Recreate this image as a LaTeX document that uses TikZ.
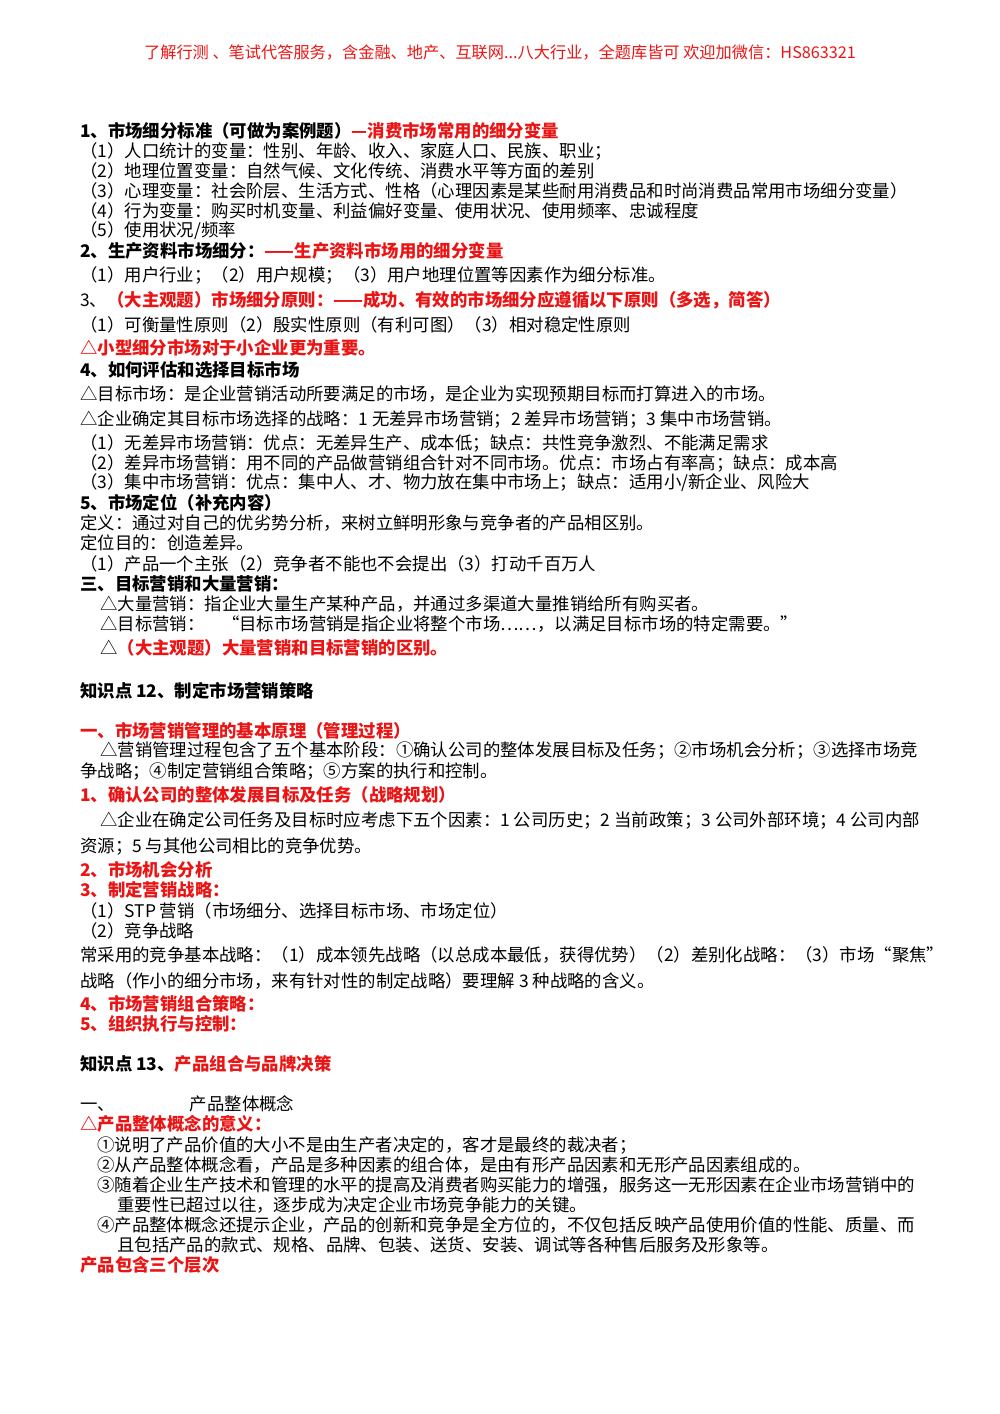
\documentclass[tikz,border=0pt]{standalone}
\usepackage{fontspec}
\setmainfont{Noto Sans CJK SC}
\definecolor{rd}{RGB}{235,20,20}
\newcommand{\R}[1]{\textcolor{rd}{#1}}
\tikzset{t/.style={anchor=west,inner sep=0pt,font=\fontsize{17.4}{18}\selectfont}}
\begin{document}
\begin{tikzpicture}[x=1pt,y=1pt]
\useasboundingbox (0,0) rectangle (1000,-1414);
\node[anchor=center,inner sep=0pt,font=\fontsize{16.2}{17}\selectfont,text=rd] (hd) at (500,-52) {了解行测 、笔试代答服务，含金融、地产、互联网...八大行业，全题库皆可 欢迎加微信：HS863321};
\node[t] (a1) at (80,-131) {\bfseries 1、市场细分标准（可做为案例题）\R{—消费市场常用的细分变量}};
\node[t] (a2) at (80,-151) {（1）人口统计的变量：性别、年龄、收入、家庭人口、民族、职业；};
\node[t] (a3) at (80,-171) {（2）地理位置变量：自然气候、文化传统、消费水平等方面的差别};
\node[t] (a4) at (80,-191) {（3）心理变量：社会阶层、生活方式、性格（心理因素是某些耐用消费品和时尚消费品常用市场细分变量）};
\node[t] (a5) at (80,-211) {（4）行为变量：购买时机变量、利益偏好变量、使用状况、使用频率、忠诚程度};
\node[t] (a6) at (80,-231) {（5）使用状况/频率};
\node[t] (b1) at (80,-251) {\bfseries 2、生产资料市场细分：\R{——生产资料市场用的细分变量}};
\node[t] (b2) at (80,-275) {（1）用户行业；（2）用户规模；（3）用户地理位置等因素作为细分标准。};
\node[t] (b3) at (80,-300) {3、\R{\bfseries（大主观题）市场细分原则：——成功、有效的市场细分应遵循以下原则（多选，简答）}};
\node[t] (b4) at (80,-325) {（1）可衡量性原则（2）殷实性原则（有利可图）（3）相对稳定性原则};
\node[t] (b5) at (80,-348) {\R{\bfseries △小型细分市场对于小企业更为重要。}};
\node[t] (c1) at (80,-370) {\bfseries 4、如何评估和选择目标市场};
\node[t] (c2) at (80,-394) {△目标市场：是企业营销活动所要满足的市场，是企业为实现预期目标而打算进入的市场。};
\node[t] (c3) at (80,-420) {△企业确定其目标市场选择的战略：1 无差异市场营销；2 差异市场营销；3 集中市场营销。};
\node[t] (c4) at (80,-443) {（1）无差异市场营销：优点：无差异生产、成本低；缺点：共性竞争激烈、不能满足需求};
\node[t] (c5) at (80,-463) {（2）差异市场营销：用不同的产品做营销组合针对不同市场。优点：市场占有率高；缺点：成本高};
\node[t] (c6) at (80,-483) {（3）集中市场营销：优点：集中人、才、物力放在集中市场上；缺点：适用小/新企业、风险大};
\node[t] (d1) at (80,-503) {\bfseries 5、市场定位（补充内容）};
\node[t] (d2) at (80,-523) {定义：通过对自己的优劣势分析，来树立鲜明形象与竞争者的产品相区别。};
\node[t] (d3) at (80,-543) {定位目的：创造差异。};
\node[t] (d4) at (80,-564) {（1）产品一个主张（2）竞争者不能也不会提出（3）打动千百万人};
\node[t] (e1) at (80,-584) {\bfseries 三、目标营销和大量营销：};
\node[t] (e2) at (100,-604) {△大量营销：指企业大量生产某种产品，并通过多渠道大量推销给所有购买者。};
\node[t] (e3) at (100,-624) {△目标营销：\quad “目标市场营销是指企业将整个市场……，以满足目标市场的特定需要。”};
\node[t] (e4) at (100,-648) {△\R{\bfseries（大主观题）大量营销和目标营销的区别。}};
\node[t] (f1) at (80,-691) {\bfseries 知识点 12、制定市场营销策略};
\node[t] (f2) at (80,-731) {\R{\bfseries 一、市场营销管理的基本原理（管理过程）}};
\node[t] (f3) at (100,-751) {△营销管理过程包含了五个基本阶段：①确认公司的整体发展目标及任务；②市场机会分析；③选择市场竞};
\node[t] (f4) at (80,-772) {争战略；④制定营销组合策略；⑤方案的执行和控制。};
\node[t] (f5) at (80,-795) {\R{\bfseries 1、确认公司的整体发展目标及任务（战略规划）}};
\node[t] (f6) at (100,-821) {△企业在确定公司任务及目标时应考虑下五个因素：1 公司历史；2 当前政策；3 公司外部环境；4 公司内部};
\node[t] (f7) at (80,-847) {资源；5 与其他公司相比的竞争优势。};
\node[t] (g1) at (80,-870) {\R{\bfseries 2、市场机会分析}};
\node[t] (g2) at (80,-890) {\R{\bfseries 3、制定营销战略：}};
\node[t] (g3) at (80,-911) {（1）STP 营销（市场细分、选择目标市场、市场定位）};
\node[t] (g4) at (80,-931) {（2）竞争战略};
\node[t] (g5) at (80,-955) {常采用的竞争基本战略：（1）成本领先战略（以总成本最低，获得优势）（2）差别化战略：（3）市场“聚焦”};
\node[t] (g6) at (80,-981) {战略（作小的细分市场，来有针对性的制定战略）要理解 3 种战略的含义。};
\node[t] (g7) at (80,-1004) {\R{\bfseries 4、市场营销组合策略：}};
\node[t] (g8) at (80,-1024) {\R{\bfseries 5、组织执行与控制：}};
\node[t] (h1) at (80,-1064) {\bfseries 知识点 13、\R{产品组合与品牌决策}};
\node[t] (h2) at (80,-1104) {一、\hspace{4.3em}产品整体概念};
\node[t] (h3) at (80,-1124) {\R{\bfseries △产品整体概念的意义：}};
\node[t] (h4) at (97,-1145) {①说明了产品价值的大小不是由生产者决定的，客才是最终的裁决者；};
\node[t] (h5) at (97,-1165) {②从产品整体概念看，产品是多种因素的组合体，是由有形产品因素和无形产品因素组成的。};
\node[t] (h6) at (97,-1185) {③随着企业生产技术和管理的水平的提高及消费者购买能力的增强，服务这一无形因素在企业市场营销中的};
\node[t] (h7) at (117,-1205) {重要性已超过以往，逐步成为决定企业市场竞争能力的关键。};
\node[t] (h8) at (97,-1225) {④产品整体概念还提示企业，产品的创新和竞争是全方位的，不仅包括反映产品使用价值的性能、质量、而};
\node[t] (h9) at (117,-1245) {且包括产品的款式、规格、品牌、包装、送货、安装、调试等各种售后服务及形象等。};
\node[t] (h10) at (80,-1265) {\R{\bfseries 产品包含三个层次}};
\end{tikzpicture}
\end{document}
